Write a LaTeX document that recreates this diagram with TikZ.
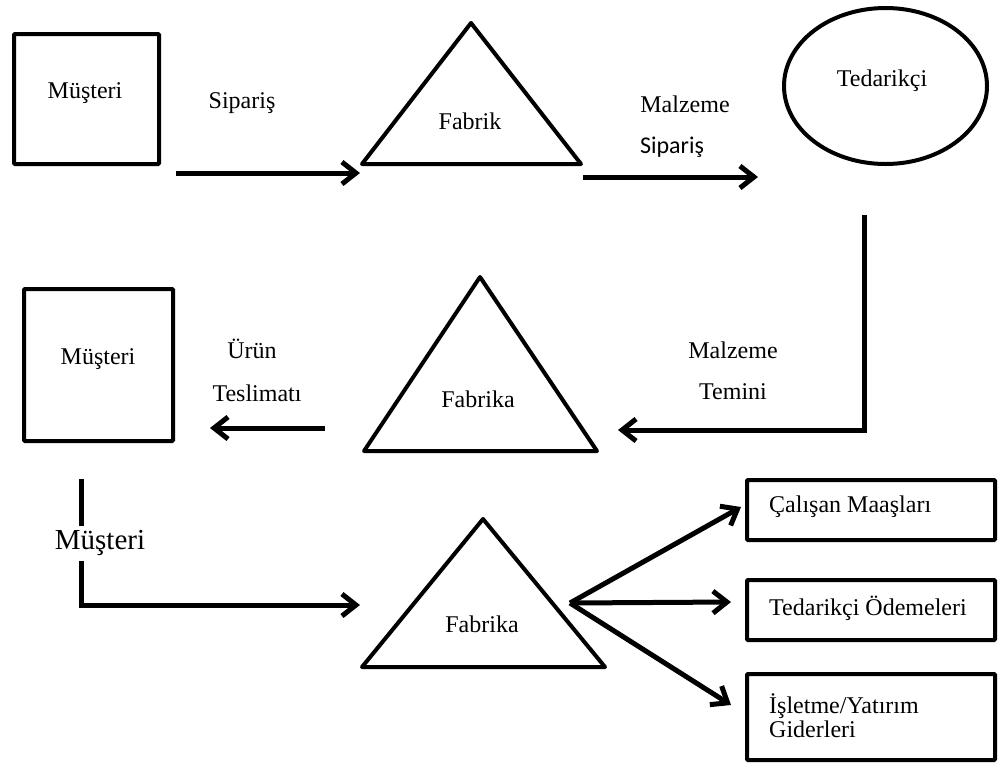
\documentclass[tikz,border=0pt]{standalone}
\usepackage{fontspec}
\setmainfont{Liberation Serif}
\newfontfamily\calibri{Carlito}
\usetikzlibrary{arrows.meta,shapes.geometric}
\begin{document}
\begin{tikzpicture}[x=1pt,y=-1pt,
  font=\fontsize{24}{26}\selectfont,
  boxs/.style={draw, line width=4pt, rounded corners=1pt, inner sep=0pt},
  tri/.style={draw, line width=4pt, line join=round},
  flow/.style={line width=5pt, -{Straight Barb[length=14pt,width=22pt]}},
  lbl/.style={inner sep=0pt, anchor=center}]
\useasboundingbox (0,0) rectangle (998,764);

% ---------- row 1 ----------
\node[boxs, minimum width=145pt, minimum height=130pt] (m1) at (86.5,99) {};
\node[lbl] (m1t) at (85,93) {Müşteri};
\node[lbl] (sip1) at (242,103) {Sipariş};
\draw[tri] (471,23) coordinate (f1a) -- (362,164) coordinate (f1l) -- (581,164) coordinate (f1r) -- cycle;
\node[lbl] (f1t) at (470,121) {Fabrik};
\coordinate (a1s) at (176,173);
\coordinate (a1e) at (360,173);
\draw[flow] (a1s) -- (a1e);
\node[lbl] (mz1) at (685,104) {Malzeme};
\node[lbl] (sip2) at (672,147) {\calibri Sipariş};
\coordinate (a2s) at (583,177);
\coordinate (a2e) at (758,177);
\draw[flow] (a2s) -- (a2e);
\node[draw, ellipse, line width=4pt, minimum width=203pt, minimum height=156pt] (ted) at (885.5,86) {};
\node[lbl] (tedt) at (882,81) {Tedarikçi};

% ---------- row 2 ----------
\coordinate (a3s) at (864,215);
\coordinate (a3c) at (864,430);
\coordinate (a3e) at (618,430);
\draw[flow, line join=miter] (a3s) -- (a3c) -- (a3e);
\node[lbl] (mz2) at (733,350) {Malzeme};
\node[lbl] (tem) at (733,392) {Temini};
\draw[tri] (480,277) coordinate (f2a) -- (364,451) coordinate (f2l) -- (597,451) coordinate (f2r) -- cycle;
\node[lbl] (f2t) at (478,399) {Fabrika};
\coordinate (a4s) at (325,428);
\coordinate (a4e) at (210,428);
\draw[flow] (a4s) -- (a4e);
\node[boxs, minimum width=149pt, minimum height=152pt] (m2) at (98.5,365) {};
\node[lbl] (m2t) at (98,359) {Müşteri};
\node[lbl] (urn) at (252,349) {Ürün};
\node[lbl] (tes) at (257,393) {Teslimatı};

% ---------- row 3 ----------
\coordinate (a5s) at (81,479);
\coordinate (a5c) at (81,605);
\coordinate (a5e) at (360,605);
\draw[flow, line join=miter] (a5s) -- (a5c) -- (a5e);
\node[fill=white, inner sep=0pt, minimum height=35pt, font=\fontsize{29}{30}\selectfont] (m3t) at (100,543) {Müşteri};
\draw[tri] (483,519) coordinate (f3a) -- (362,667) coordinate (f3l) -- (605,667) coordinate (f3r) -- cycle;
\node[lbl] (f3t) at (482,624) {Fabrika};
\coordinate (fan) at (570,603);
\node[boxs, minimum width=248pt, minimum height=60pt] (b1) at (871,510) {};
\node[boxs, minimum width=248pt, minimum height=60pt] (b2) at (871,610) {};
\node[boxs, minimum width=248pt, minimum height=86pt] (b3) at (871,717) {};
\node[lbl, anchor=west] (b1t) at (769,507) {Çalışan Maaşları};
\node[lbl, anchor=west] (b2t) at (769,608) {Tedarikçi Ödemeleri};
\node[lbl, anchor=west, align=left, font=\fontsize{24}{24}\selectfont] (b3t) at (769,716) {İşletme/Yatırım\\Giderleri};
\coordinate (e1) at (741,507);
\coordinate (e2) at (731,602);
\coordinate (e3) at (731,705);
\draw[flow] (fan) -- (e1);
\draw[flow] (fan) -- (e2);
\draw[flow] (fan) -- (e3);
\end{tikzpicture}
\end{document}
